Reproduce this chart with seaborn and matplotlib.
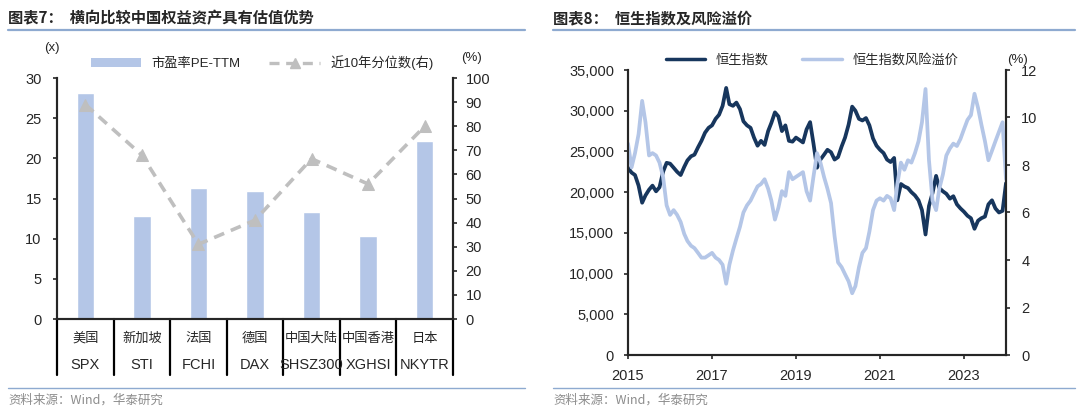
import numpy as np
import pandas as pd
import matplotlib
matplotlib.use("Agg")
import matplotlib.pyplot as plt
import seaborn as sns
from matplotlib.lines import Line2D
from matplotlib.patches import Patch
from matplotlib.ticker import FuncFormatter

# ---- left chart data ----
markets = ["美国", "新加坡", "法国", "德国", "中国大陆", "中国香港", "日本"]
codes = ["SPX", "STI", "FCHI", "DAX", "SHSZ300", "XGHSI", "NKYTR"]
pe_ttm = [28.1, 12.8, 16.3, 15.9, 13.3, 10.3, 22.2]
pct_10y = [89, 68, 31, 41, 66.5, 56, 80]

# ---- right chart data (monthly, Sep 2015 - Sep 2024) ----
hsi = [23000, 22400, 22100, 20800, 18700, 19600, 20300, 20800, 20100, 20600,
       22500, 23600, 23500, 23000, 22500, 22100, 23100, 23900, 24400, 24600,
       25500, 26300, 27300, 27900, 28200, 29000, 29500, 30600, 32800, 30800,
       30600, 31000, 30200, 28700, 28200, 27900, 26700, 25700, 26300, 25800,
       27500, 28500, 29800, 29300, 27500, 28200, 26300, 26200, 26700, 26400,
       26100, 27700, 28600, 26000, 23000, 24000, 24600, 25200, 24900, 24000,
       24300, 25600, 26700, 28300, 30500, 30000, 29000, 28800, 29100, 28200,
       26600, 25700, 25200, 24800, 24000, 23700, 24200, 19000, 21000, 20700,
       20500, 20000, 19600, 19000, 17800, 14800, 18300, 19900, 22000, 20500,
       20100, 19800, 19200, 19500, 18500, 18000, 17600, 17100, 16800, 15500,
       16500, 16800, 17000, 18500, 19000, 18000, 17500, 17700, 21100]
premium = [8.9, 7.9, 8.5, 9.3, 10.7, 9.8, 8.4, 8.5, 8.4, 8.1,
           7.5, 6.3, 5.9, 6.1, 5.9, 5.6, 5.1, 4.8, 4.6, 4.5,
           4.3, 4.1, 4.1, 4.2, 4.3, 4.1, 4.0, 3.8, 3.0, 3.8,
           4.4, 4.9, 5.4, 6.0, 6.3, 6.5, 6.8, 7.1, 7.2, 7.4,
           7.0, 6.5, 5.7, 6.2, 6.9, 6.7, 7.7, 7.4, 7.5, 7.6,
           7.7, 6.9, 6.5, 7.5, 8.5, 8.1, 7.5, 7.0, 6.4, 5.0,
           3.9, 3.7, 3.4, 3.1, 2.6, 2.9, 3.7, 4.3, 4.5, 5.2,
           6.1, 6.5, 6.6, 6.5, 6.7, 6.6, 6.1, 7.2, 8.1, 7.8,
           8.2, 8.1, 8.5, 9.0, 9.8, 11.2, 8.2, 6.5, 6.1, 7.0,
           7.6, 8.4, 8.7, 8.9, 8.8, 9.1, 9.5, 9.9, 10.1, 11.0,
           10.4, 9.7, 9.0, 8.2, 8.6, 9.0, 9.4, 9.8, 7.4]
dates = pd.date_range("2015-09-30", periods=len(hsi), freq="ME")

sns.set_style("ticks")
plt.rcParams["font.family"] = ["Liberation Sans", "Noto Sans CJK SC", "DejaVu Sans"]
plt.rcParams["axes.linewidth"] = 1.5

BAR = "#b4c6e7"
GREY = "#bfbfbf"
NAVY = "#17365d"
LIGHT = "#b4c6e7"
RULE = "#8eaad0"
SRC = "#8c8c8c"

fig = plt.figure(figsize=(10.8, 4.11), dpi=100)
W, H = 1080, 411


def fx(px):
    return px / W


def fy(py):
    return 1 - py / H


# headers / footers
for x0, x1, title in [(8, 525, "图表7：  横向比较中国权益资产具有估值优势"),
                      (553, 1075, "图表8：  恒生指数及风险溢价")]:
    fig.text(fx(x0), fy(18), title, fontsize=11, fontweight="bold",
             va="center", ha="left", family=["Noto Sans CJK SC", "DejaVu Sans"])
    fig.add_artist(Line2D([fx(x0), fx(x1)], [fy(30), fy(30)], color=RULE, lw=1.6))
    fig.add_artist(Line2D([fx(x0), fx(x1)], [fy(388), fy(388)], color=RULE, lw=1.0))
    fig.text(fx(x0), fy(400), "资料来源：Wind，华泰研究", fontsize=9, color=SRC,
             va="center", ha="left", family=["Noto Sans CJK SC", "DejaVu Sans"])

# ---------------- left chart ----------------
ax = fig.add_axes([fx(57), fy(319), fx(453 - 57), (319 - 78) / H])
sns.barplot(x=codes, y=pe_ttm, ax=ax, color=BAR, width=0.31, saturation=1)
ax.set_ylim(0, 30)
ax.set_yticks(range(0, 31, 5))
ax.set_xlim(-0.5, len(codes) - 0.5)
ax.set_xticks([])
ax.set_xlabel("")
ax.set_ylabel("")
ax.spines["top"].set_visible(False)
ax.tick_params(axis="y", labelsize=10.5, length=3, width=1.2, pad=8)

ax2 = ax.twinx()
sns.lineplot(x=np.arange(len(codes)), y=pct_10y, ax=ax2, color=GREY, lw=2.6,
             linestyle=(0, (3, 2)), marker="^", markersize=8,
             markeredgecolor=GREY, markerfacecolor=GREY)
ax2.set_ylim(0, 100)
ax2.set_yticks(range(0, 101, 10))
ax2.set_ylabel("")
ax2.spines["top"].set_visible(False)
ax2.tick_params(axis="y", labelsize=10.5, length=3, width=1.2, pad=6)

trans = ax.get_xaxis_transform()
tbl_h = (375 - 319) / (319 - 78)
for b in np.arange(-0.5, len(codes), 1.0):
    ax.plot([b, b], [0, -tbl_h], transform=trans, color="black", lw=1.6, clip_on=False)
for i, (m, c) in enumerate(zip(markets, codes)):
    ax.text(i, -(338 - 319) / (319 - 78), m, transform=trans, ha="center", va="center",
            fontsize=9.5, family=["Noto Sans CJK SC", "DejaVu Sans"])
    ax.text(i, -(365 - 319) / (319 - 78), c, transform=trans, ha="center", va="center",
            fontsize=10.5)

fig.text(fx(52), fy(48), "(x)", ha="center", va="center", fontsize=9.5)
fig.text(fx(472), fy(58), "(%)", ha="center", va="center", fontsize=9.5)

h1 = [Patch(facecolor=BAR, edgecolor="none"),
      Line2D([], [], color=GREY, lw=2.4, linestyle=(0, (3, 2)), marker="^",
             markersize=7, markeredgecolor=GREY)]
fig.legend(h1, ["市盈率PE-TTM", "近10年分位数(右)"], loc="center",
           bbox_to_anchor=(fx(262), fy(63)), ncol=2, frameon=False,
           handlelength=3.8, handleheight=0.7, columnspacing=2.2,
           prop={"family": ["Liberation Sans", "Noto Sans CJK SC"], "size": 9.5})

# ---------------- right chart ----------------
ax3 = fig.add_axes([fx(628), fy(355), fx(1006 - 628), (355 - 70) / H])
sns.lineplot(x=dates, y=hsi, ax=ax3, color=NAVY, lw=2.7)
ax3.set_ylim(0, 35000)
ax3.set_yticks(range(0, 35001, 5000))
ax3.yaxis.set_major_formatter(FuncFormatter(lambda v, p: f"{int(v):,}"))
ax3.set_xlim(dates[0], dates[-1])
ax3.set_xticks(dates[::24])
ax3.set_xticklabels([d.strftime("%Y") for d in dates[::24]])
ax3.set_xlabel("")
ax3.set_ylabel("")
ax3.spines["top"].set_visible(False)
ax3.tick_params(axis="both", labelsize=10.5, length=3, width=1.2, pad=7)

ax4 = ax3.twinx()
sns.lineplot(x=dates, y=premium, ax=ax4, color=LIGHT, lw=2.7)
ax4.set_ylim(0, 12)
ax4.set_yticks(range(0, 13, 2))
ax4.set_ylabel("")
ax4.spines["top"].set_visible(False)
ax4.tick_params(axis="y", labelsize=10.5, length=3, width=1.2, pad=8)

fig.text(fx(1018), fy(60), "(%)", ha="center", va="center", fontsize=9.5)
h2 = [Line2D([], [], color=NAVY, lw=2.5), Line2D([], [], color=LIGHT, lw=2.5)]
fig.legend(h2, ["恒生指数", "恒生指数风险溢价"], loc="center",
           bbox_to_anchor=(fx(812), fy(60)), ncol=2, frameon=False,
           handlelength=3.0, columnspacing=2.5,
           prop={"family": ["Noto Sans CJK SC", "DejaVu Sans"], "size": 9.5})

fig.savefig("out.png", dpi=100)
